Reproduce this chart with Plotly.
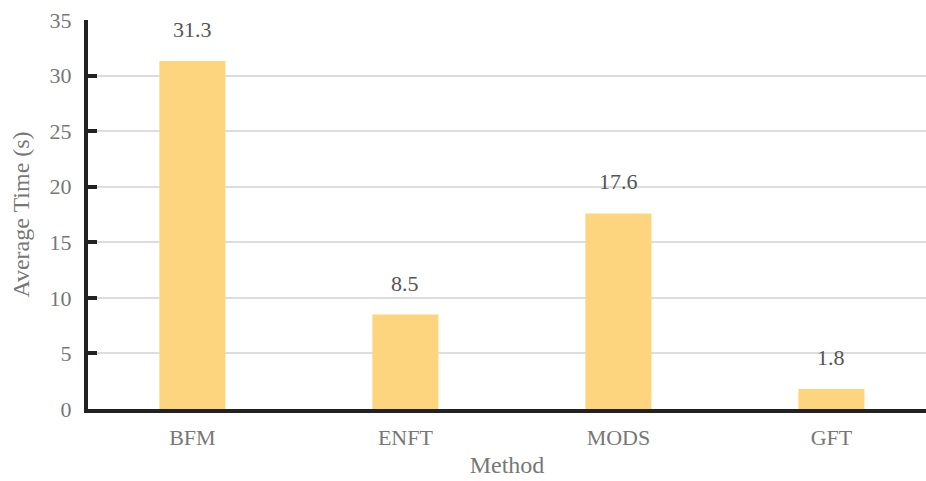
import plotly.graph_objects as go

methods = ["BFM", "ENFT", "MODS", "GFT"]
avg_time = [31.3, 8.5, 17.6, 1.8]
y_ticks = [0, 5, 10, 15, 20, 25, 30, 35]

font_family = "Liberation Serif"

fig = go.Figure()
fig.add_trace(go.Bar(
    x=methods, y=avg_time,
    marker=dict(color="#FDD57E", line=dict(width=0)),
    width=0.31,
    hoverinfo="x+y",
))
for m, v in zip(methods, avg_time):
    fig.add_annotation(x=m, y=v, text=f"{v}", showarrow=False,
                       yanchor="bottom", yshift=17,
                       font=dict(family=font_family, size=22, color="#555555"))

fig.update_layout(
    width=926, height=481,
    margin=dict(l=88, r=0, t=20, b=72),
    paper_bgcolor="white", plot_bgcolor="white",
    font=dict(family=font_family, size=22, color="#777777"),
    showlegend=False,
    xaxis=dict(
        range=[-0.49, 3.444],
        showline=True, linecolor="#222222", linewidth=4,
        ticks="", showgrid=False,
        tickfont=dict(family=font_family, size=22, color="#777777"),
        ticklabelstandoff=6,
        title=dict(text="Method", font=dict(family=font_family, size=24, color="#777777"), standoff=8),
    ),
    yaxis=dict(
        range=[0, 35], tickvals=y_ticks,
        showline=True, linecolor="#222222", linewidth=4,
        ticks="inside", ticklen=9, tickwidth=4, tickcolor="#222222",
        showgrid=True, gridcolor="#dddddd", gridwidth=2,
        zeroline=False,
        tickfont=dict(family=font_family, size=22, color="#777777"),
        ticklabelstandoff=8,
        title=dict(text="Average Time (s)", font=dict(family=font_family, size=24, color="#777777"), standoff=14),
    ),
)

fig.write_html("out.html", config={"displayModeBar": False},
               post_script="document.body.style.margin='0';document.body.style.overflow='hidden';")
